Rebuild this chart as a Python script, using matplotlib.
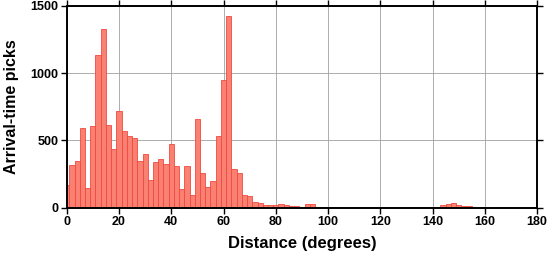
import matplotlib.pyplot as plt
import numpy as np

plt.rcParams['font.family'] = ['Liberation Sans', 'DejaVu Sans']
plt.rcParams['font.weight'] = 'bold'

# 2-degree bins, centred on even degrees
bin_centers = np.arange(0, 182, 2)
picks = [168, 320, 344, 590, 150, 605, 1132, 1325, 612, 434,
         716, 567, 535, 515, 350, 401, 204, 337, 359, 322,
         470, 310, 137, 310, 94, 661, 255, 151, 196, 530,
         946, 1428, 287, 257, 97, 87, 45, 35, 20, 18,
         20, 28, 20, 15, 12, 3, 27, 27, 7, 2,
         3, 5, 4, 2, 1, 2, 4, 3, 4, 3,
         3, 4, 3, 2, 1, 3, 4, 3, 4, 3,
         2, 8, 20, 25, 35, 17, 12, 10, 8, 5,
         2, 1, 1, 2, 3, 4, 1, 1, 0, 0,
         0]

x_ticks = np.arange(0, 181, 20)
y_ticks = [0, 500, 1000, 1500]

fig = plt.figure(figsize=(5.47, 2.58), dpi=100)
ax = fig.add_axes([0.122, 0.195, 0.860, 0.782])

ax.bar(bin_centers, picks, width=2, color='#fa8072', edgecolor='#f04a40',
       linewidth=0.6, zorder=2)

ax.set_xlim(0, 180)
ax.set_ylim(0, 1500)
ax.set_xticks(x_ticks)
ax.set_yticks(y_ticks)
ax.grid(True, color='#a0a0a0', linewidth=0.6, zorder=0)
ax.set_axisbelow(True)

for s in ax.spines.values():
    s.set_linewidth(1.4)
    s.set_zorder(3)
ax.tick_params(direction='out', length=4, width=1, labelsize=9,
               top=True, right=True, pad=2)

ax.set_xlabel("Distance (degrees)", fontsize=12, fontweight='bold', labelpad=6)
ax.set_ylabel("Arrival-time picks", fontsize=11.5, fontweight='bold', labelpad=8)

fig.savefig("out.png", dpi=100)
